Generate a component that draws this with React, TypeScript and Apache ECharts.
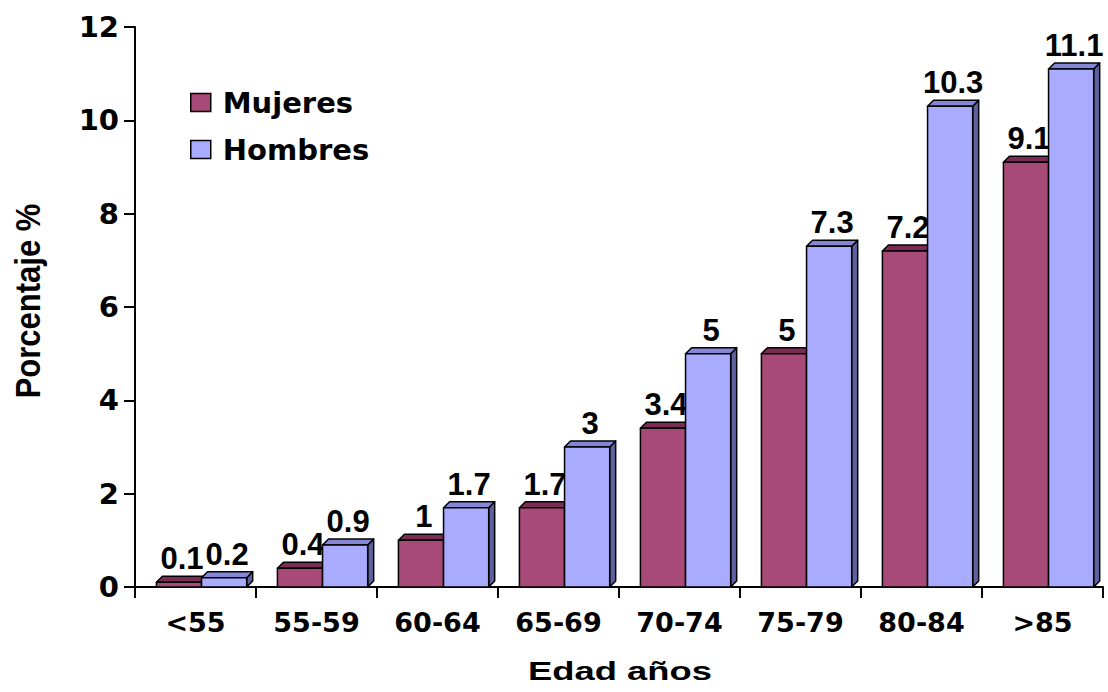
import React, { useEffect, useRef } from "react";
import * as echarts from "echarts";

const categories = ["<55", "55-59", "60-64", "65-69", "70-74", "75-79", "80-84", ">85"];
const mujeres = [0.1, 0.4, 1, 1.7, 3.4, 5, 7.2, 9.1];
const hombres = [0.2, 0.9, 1.7, 3, 5, 7.3, 10.3, 11.1];
const yTicks = { min: 0, max: 12, interval: 2 };

const WIDE = "'DejaVu Sans', Verdana, sans-serif";
const ARIAL = "'Liberation Sans', Arial, sans-serif";

const palette = {
  mujeres: { front: "#A84A78", top: "#7C2C54", side: "#7C2C54" },
  hombres: { front: "#A9ABFF", top: "#8587D6", side: "#5E60A0" },
};

// Draws an Excel-style pseudo-3D bar: right side, top face, front face and value label.
function makeRenderItem(slot: number, colors: { front: string; top: string; side: string }) {
  return (params: any, api: any) => {
    const cat = api.value(0);
    const v = api.value(1);
    const topPt = api.coord([cat, v]);
    const basePt = api.coord([cat, 0]);
    const catW = api.size([1, 0])[0];
    const w = catW * 0.373;
    const d = 6;
    const x = topPt[0] - w + catW * 0.05 + slot * w;
    const yTop = topPt[1];
    const y0 = basePt[1];
    const stroke = { stroke: "#000", lineWidth: 1.5, lineJoin: "round" };
    return {
      type: "group",
      children: [
        {
          type: "polygon",
          shape: { points: [[x + w, yTop], [x + w + d, yTop - d], [x + w + d, y0 - d], [x + w, y0]] },
          style: { fill: colors.side, ...stroke },
        },
        {
          type: "polygon",
          shape: { points: [[x, yTop], [x + d, yTop - d], [x + w + d, yTop - d], [x + w, yTop]] },
          style: { fill: colors.top, ...stroke },
        },
        {
          type: "rect",
          shape: { x, y: yTop, width: w, height: Math.max(y0 - yTop, 0) },
          style: { fill: colors.front, ...stroke },
        },
        {
          type: "text",
          x: x + w / 2 + d / 2,
          y: yTop - d - 2,
          style: {
            text: String(v),
            fill: "#000",
            font: `bold 31px ${ARIAL}`,
            align: "center",
            verticalAlign: "bottom",
          },
        },
      ],
    };
  };
}

export default function App() {
  const ref = useRef<HTMLDivElement>(null);

  useEffect(() => {
    if (!ref.current) return;
    const chart = echarts.init(ref.current, null, { renderer: "svg" });
    const axisText = { color: "#000", fontWeight: "bold" as const, fontFamily: WIDE };
    chart.setOption({
      animation: false,
      backgroundColor: "#fff",
      grid: { left: 135, right: 5, top: 27, bottom: 105, containLabel: false },
      legend: {
        orient: "vertical",
        left: 190,
        top: 88,
        padding: 0,
        itemWidth: 20,
        itemHeight: 18,
        itemGap: 18,
        icon: "rect",
        textStyle: { ...axisText, fontSize: 29, padding: [0, 0, 0, 7] },
        data: [
          { name: "Mujeres", itemStyle: { color: palette.mujeres.front, borderColor: "#000", borderWidth: 1.5 } },
          { name: "Hombres", itemStyle: { color: palette.hombres.front, borderColor: "#000", borderWidth: 1.5 } },
        ],
      },
      xAxis: {
        type: "category",
        data: categories,
        boundaryGap: true,
        axisLine: { lineStyle: { color: "#000", width: 2 } },
        axisTick: { show: true, length: 11, lineStyle: { color: "#000", width: 2 } },
        axisLabel: { ...axisText, fontSize: 27, margin: 22 },
        splitLine: { show: false },
      },
      yAxis: {
        type: "value",
        min: yTicks.min,
        max: yTicks.max,
        interval: yTicks.interval,
        axisLine: { show: true, lineStyle: { color: "#000", width: 2 } },
        axisTick: { show: true, length: 11, lineStyle: { color: "#000", width: 2 } },
        axisLabel: { ...axisText, fontSize: 29, margin: 16 },
        splitLine: { show: false },
      },
      graphic: [
        {
          type: "text",
          x: 620,
          y: 671,
          scaleX: 1.4,
          style: {
            text: "Edad años",
            fill: "#000",
            font: `bold 26px ${ARIAL}`,
            align: "center",
            verticalAlign: "middle",
          },
        },
        {
          type: "text",
          x: 28,
          y: 301,
          rotation: Math.PI / 2,
          scaleY: 1.15,
          style: {
            text: "Porcentaje %",
            fill: "#000",
            font: `bold 31px ${ARIAL}`,
            align: "center",
            verticalAlign: "middle",
          },
        },
      ],
      series: [
        {
          name: "Mujeres",
          type: "custom",
          color: palette.mujeres.front,
          renderItem: makeRenderItem(0, palette.mujeres),
          encode: { x: 0, y: 1 },
          data: mujeres.map((v, i) => [i, v]),
        },
        {
          name: "Hombres",
          type: "custom",
          color: palette.hombres.front,
          renderItem: makeRenderItem(1, palette.hombres),
          encode: { x: 0, y: 1 },
          data: hombres.map((v, i) => [i, v]),
        },
      ],
    });
    return () => chart.dispose();
  }, []);

  return <div ref={ref} style={{ width: 1108, height: 692, position: "absolute", left: 0, top: 0 }} />;
}
